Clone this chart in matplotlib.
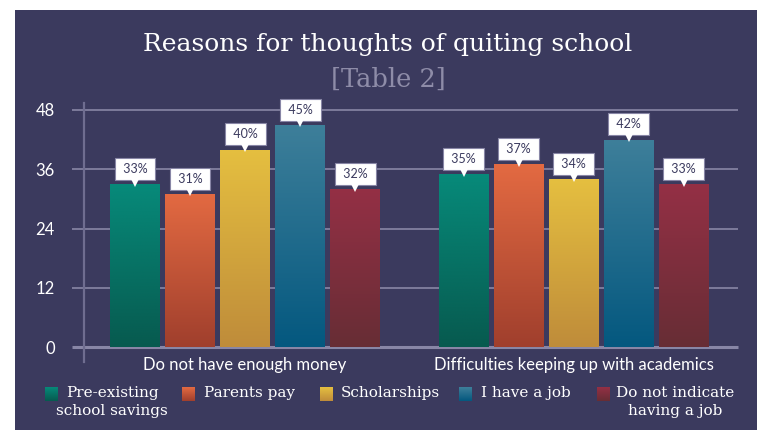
import matplotlib
matplotlib.use("Agg")
import matplotlib.pyplot as plt
import numpy as np
from matplotlib.colors import LinearSegmentedColormap
from matplotlib.patches import Rectangle

# ---- data ----
categories = ["Do not have enough money", "Difficulties keeping up with academics"]
series = ["Pre-existing\nschool savings", "Parents pay", "Scholarships", "I have a job",
          "Do not indicate\nhaving a job"]
values = {
    "Pre-existing\nschool savings": [33, 35],
    "Parents pay": [31, 37],
    "Scholarships": [40, 34],
    "I have a job": [45, 42],
    "Do not indicate\nhaving a job": [32, 33],
}
yticks = [0, 12, 24, 36, 48]
title = "Reasons for thoughts of quiting school"
subtitle = "[Table 2]"

# ---- style ----
BG = "#3b3a5e"
GRID = "#8886a6"
top_colors = ["#078a7a", "#e36a42", "#e5bf40", "#3e7f9a", "#943045"]
bot_colors = ["#075a4f", "#a03f2d", "#bf8c3a", "#04587f", "#672d35"]

W, H = 757, 430
fig = plt.figure(figsize=(W / 100, H / 100), dpi=100)
fig.patch.set_facecolor("white")

# overlay axes in pixel coordinates (background, title, legend)
ov = fig.add_axes([0, 0, 1, 1], zorder=0)
ov.set_xlim(0, W)
ov.set_ylim(H, 0)
ov.axis("off")
ov.add_patch(Rectangle((15, 10), W - 15, H - 10, facecolor=BG, edgecolor="none"))

serif = ["DejaVu Serif"]
ov.text(388, 45, title, ha="center", va="center", color="white", fontsize=18,
        family=serif)
ov.text(388, 79, subtitle, ha="center", va="center", color="#8e8ca8", fontsize=18.5,
        family=serif)

# main axes
left_px, right_px, bottom_px, top_px = 84, 738, 347, 103
ymax = (bottom_px - top_px) / ((347 - 110) / 48)
ax = fig.add_axes([left_px / W, (H - bottom_px) / H, (right_px - left_px) / W,
                   (bottom_px - top_px) / H], zorder=1)
ax.set_facecolor("none")
for s in ax.spines.values():
    s.set_visible(False)

x = np.arange(len(categories))
step = 0.1674
width = 0.152
for i, name in enumerate(series):
    vals = values[name]
    xs = x + (i - 2) * step
    bars = ax.bar(xs, vals, width=width, color=top_colors[i], zorder=2)
    cmap = LinearSegmentedColormap.from_list("g%d" % i, [bot_colors[i], top_colors[i]])
    for b, v, xc in zip(bars, vals, xs):
        grad = np.linspace(0, 1, 256).reshape(-1, 1)
        im = ax.imshow(grad, cmap=cmap, origin="lower", aspect="auto",
                       extent=[xc - width / 2, xc + width / 2, 0, v], zorder=2.1,
                       interpolation="bilinear")
        im.set_clip_path(b)
        # label box
        ax.annotate(f" {v}% ", xy=(xc, v), xytext=(0, 11), textcoords="offset points",
                    ha="center", va="center", fontsize=9, color="#3b3a5e",
                    family="Lato", zorder=5,
                    bbox=dict(boxstyle="square,pad=0.4", facecolor="white",
                              edgecolor="#8886a6", linewidth=0.8))
        ax.plot([xc], [v + 0.5], marker="v", markersize=7, color="white",
                markeredgewidth=0, zorder=6, clip_on=False)

ax.set_xlim(-0.49, 1.5)
ax.set_ylim(0, ymax)

# gridlines (extend left past axis)
gl_left = (72 - left_px) / (right_px - left_px)
for t in yticks:
    ax.hlines(t, gl_left, 1.0, transform=ax.get_yaxis_transform(), colors=GRID,
              linewidth=2.2 if t == 0 else 1.2, zorder=1, clip_on=False)
# vertical axis line
ax.plot([0, 0], [1.0, -(362 - 347) / (bottom_px - top_px)], transform=ax.transAxes,
        color="#6f6d90", linewidth=1.6, clip_on=False, zorder=1)

ax.set_yticks(yticks)
ax.set_yticklabels([str(t) for t in yticks], color="white", fontsize=12, family="Lato")
ax.tick_params(axis="y", length=0, pad=21)
ax.set_xticks(x)
ax.set_xticklabels(categories, color="white", fontsize=12, family="Lato")
ax.tick_params(axis="x", length=0, pad=7)
ax.grid(False)

# legend (manual)
sq_x = [45, 182, 320, 459, 597]
txt_x = [112, 204, 341, 481, 675]
txt_ha = ["center", "left", "left", "left", "center"]
for i, name in enumerate(series):
    cmap = LinearSegmentedColormap.from_list("l%d" % i, [top_colors[i], bot_colors[i]])
    grad = np.linspace(0, 1, 64).reshape(-1, 1)
    ov.imshow(grad, cmap=cmap, extent=[sq_x[i], sq_x[i] + 13, 401, 387], aspect="auto",
              interpolation="bilinear", zorder=2)
    ov.text(txt_x[i], 386, name, ha=txt_ha[i], va="top", multialignment="center",
            color="white", fontsize=11, family=serif, linespacing=1.35)
ov.set_xlim(0, W)
ov.set_ylim(H, 0)

fig.savefig("out.png", dpi=100, facecolor=fig.get_facecolor())
